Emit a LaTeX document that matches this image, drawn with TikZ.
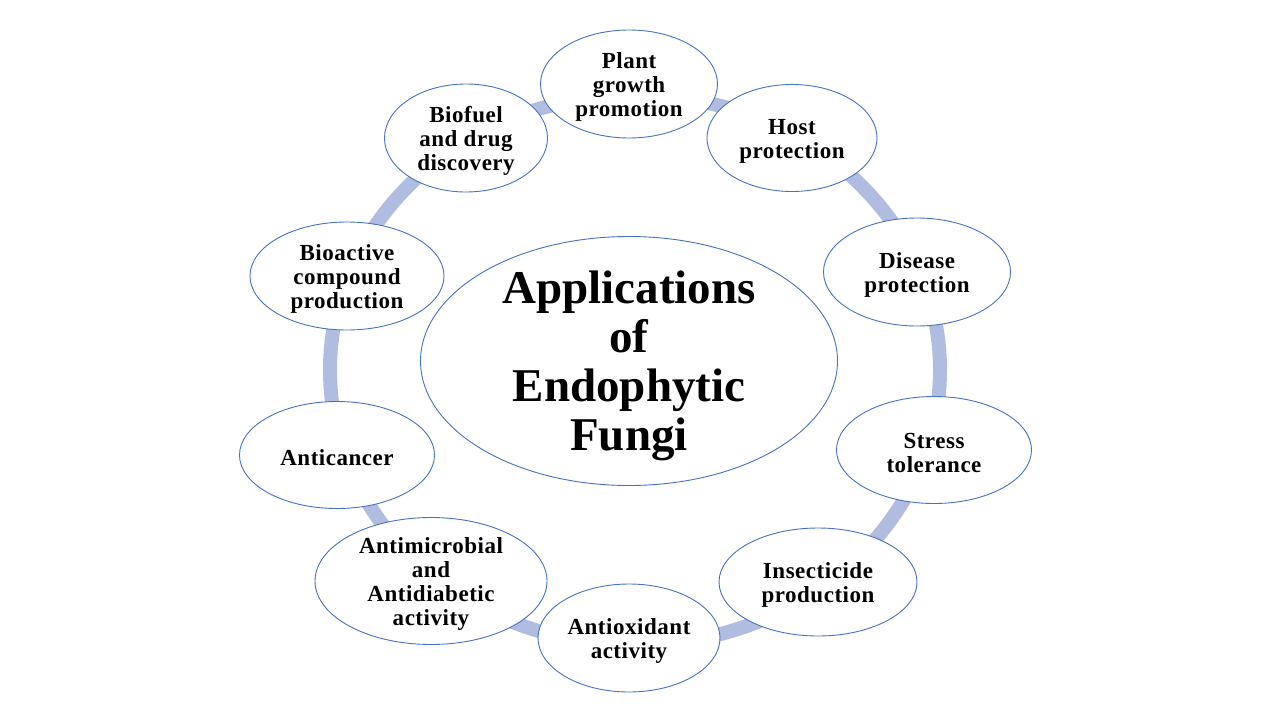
\documentclass[tikz,border=0pt]{standalone}
\usepackage{fontspec}
\setmainfont{Liberation Serif}
\newfontfamily\smallfam[LetterSpace=2.3]{Liberation Serif}
\usetikzlibrary{shapes.geometric}
\definecolor{ringc}{RGB}{176,188,224}
\definecolor{edgec}{RGB}{68,114,196}
\tikzset{
  bubble/.style={ellipse, draw=edgec, line width=0.9pt, fill=white, inner sep=0pt},
  lbl/.style={align=center, inner sep=0pt, yshift=-3pt, font=\smallfam\bfseries\fontsize{23}{24}\selectfont},
  biglbl/.style={align=center, inner sep=0pt, yshift=-5pt, font=\bfseries\fontsize{47}{49}\selectfont},
  ring/.style={draw=ringc, line width=14pt}
}
\begin{document}
\begin{tikzpicture}[x=1pt,y=-1pt]
\useasboundingbox (0,0) rectangle (1280,720);
\fill[white] (0,0) rectangle (1280,720);
\draw[ring] (635,370) ellipse [x radius=305pt, y radius=275pt];
\node[bubble, minimum width=417pt, minimum height=249pt] (center) at (629,361) {};
\node[biglbl] (centert) at (center) {Applications\\of\\Endophytic\\Fungi};
\node[bubble, minimum width=177pt, minimum height=108pt] (plant) at (629,84) {};
\node[lbl] at (plant) {Plant\\growth\\promotion};
\node[bubble, minimum width=170pt, minimum height=107pt] (host) at (792,138) {};
\node[lbl] at (host) {Host\\protection};
\node[bubble, minimum width=187pt, minimum height=108pt] (disease) at (917,272) {};
\node[lbl] at (disease) {Disease\\protection};
\node[bubble, minimum width=195pt, minimum height=107pt] (stress) at (934,450) {};
\node[lbl] at (stress) {Stress\\tolerance};
\node[bubble, minimum width=198pt, minimum height=108pt] (insect) at (818,582) {};
\node[lbl] at (insect) {Insecticide\\production};
\node[bubble, minimum width=182pt, minimum height=108pt] (antiox) at (629,638) {};
\node[lbl] at (antiox) {Antioxidant\\activity};
\node[bubble, minimum width=232pt, minimum height=127pt] (antimic) at (431,581) {};
\node[lbl] at (antimic) {Antimicrobial\\and\\Antidiabetic\\activity};
\node[bubble, minimum width=195pt, minimum height=107pt] (cancer) at (337,455) {};
\node[lbl] at (cancer) {Anticancer};
\node[bubble, minimum width=194pt, minimum height=108pt] (bioact) at (347,276) {};
\node[lbl] at (bioact) {Bioactive\\compound\\production};
\node[bubble, minimum width=163pt, minimum height=108pt] (biofuel) at (466,138) {};
\node[lbl] at (biofuel) {Biofuel\\and drug\\discovery};
\end{tikzpicture}
\end{document}
